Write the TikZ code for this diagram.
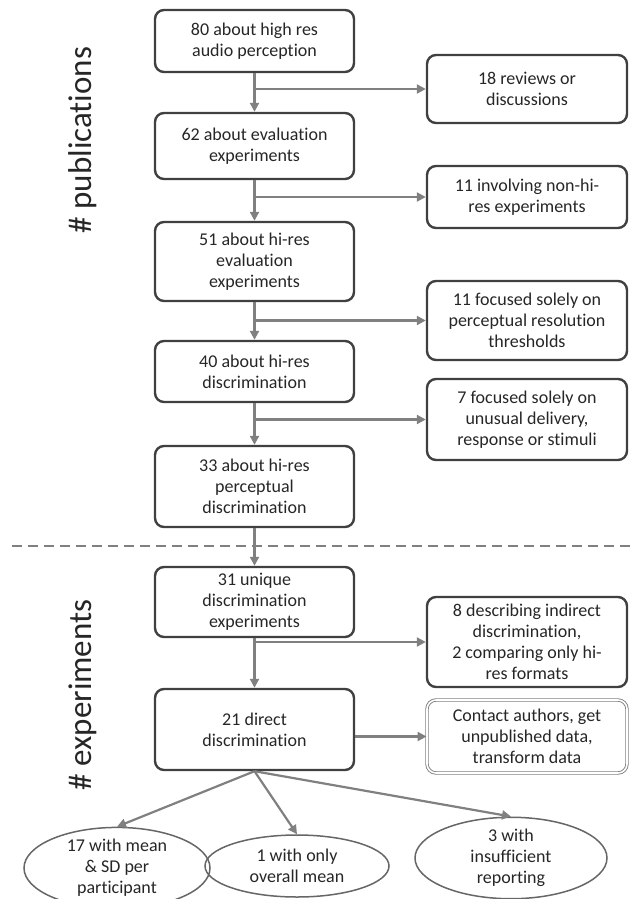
\documentclass[tikz,border=0pt]{standalone}
\usepackage{fontspec}
\setmainfont[Ligatures=NoCommon]{Carlito}
\definecolor{boxline}{HTML}{404040}
\definecolor{arrowgray}{HTML}{808080}
\definecolor{textdark}{HTML}{262626}
\usetikzlibrary{shapes, arrows.meta, positioning, fit, calc}
\tikzset{
  stepbox/.style={draw=boxline, line width=2.4pt, rounded corners=9pt,
    minimum width=199pt, align=center, text=textdark,
    font=\fontsize{18}{21}\selectfont},
  sidebox/.style={stepbox, minimum width=200pt},
  outcome/.style={ellipse, draw=boxline!80, line width=1.5pt, inner sep=0pt,
    align=center, text=textdark, font=\fontsize{18}{21}\selectfont},
  flow/.style={draw=arrowgray, line width=2.2pt,
    -{Triangle[length=9pt,width=9pt]}},
  sidelabel/.style={rotate=90, text=textdark, font=\fontsize{33}{36}\selectfont}
}

\begin{document}
\begin{tikzpicture}[x=1pt,y=-1pt]
  \useasboundingbox (0,0) rectangle (632,899);

  % publications
  \node[stepbox, minimum height=62pt] (p80) at (254.5,41) {80 about high res\\audio perception};
  \node[stepbox, minimum height=66pt] (p62) at (254.5,146) {62 about evaluation\\experiments};
  \node[stepbox, minimum height=79pt] (p51) at (254.5,261.5) {51 about hi-res\\evaluation\\experiments};
  \node[stepbox, minimum height=61pt] (p40) at (254.5,371.5) {40 about hi-res\\discrimination};
  \node[stepbox, minimum height=81pt] (p33) at (254.5,486.5) {33 about hi-res\\perceptual\\discrimination};

  \node[sidebox, minimum height=68pt] (x18) at (527,89) {18 reviews or\\discussions};
  \node[sidebox, minimum height=62pt] (x11a) at (527,197) {11 involving non-hi-\\res experiments};
  \node[sidebox, minimum height=79pt] (x11b) at (527,320.5) {11 focused solely on\\perceptual resolution\\thresholds};
  \node[sidebox, minimum height=81pt] (x7) at (527,419.5) {7 focused solely on\\unusual delivery,\\response or stimuli};

  % experiments
  \node[stepbox, minimum height=70pt] (e31) at (254.5,602) {31 unique\\discrimination\\experiments};
  \node[stepbox, minimum height=81pt] (e21) at (254.5,729.5) {21 direct\\discrimination};

  \node[sidebox, minimum height=90pt] (x8) at (527,642) {8 describing indirect\\discrimination,\\2 comparing only hi-\\res formats};
  \node[sidebox, minimum height=73pt, draw=arrowgray, line width=0.9pt,
        double=white, double distance=1.6pt] (contact) at (527,736.5)
        {Contact authors, get\\unpublished data,\\transform data};

  \node[outcome, minimum width=186pt, minimum height=62pt] (o17) at (117,868) {17 with mean\\\& SD per\\participant};
  \node[outcome, minimum width=184pt, minimum height=62pt] (o1) at (297,866) {1 with only\\overall mean};
  \node[outcome, minimum width=192pt, minimum height=64pt] (o3) at (511,858) {3 with\\insufficient\\reporting};

  \node[sidelabel] (pubs) at (83,140) {\# publications};
  \node[sidelabel] (exps) at (83,695) {\# experiments};

  \draw[arrowgray, line width=2pt, dash pattern=on 10pt off 6pt] (12,546) -- (632,546);

  % connectors
  \draw[flow] (p80) -- (p62);
  \draw[flow] (p62) -- (p51);
  \draw[flow] (p51) -- (p40);
  \draw[flow] (p40) -- (p33);
  \draw[flow] (p33) -- (e31);
  \draw[flow] (e31) -- (e21);
  \draw[flow] (p80.south |- x18.west) -- (x18.west);
  \draw[flow] (p62.south |- x11a.west) -- (x11a.west);
  \draw[flow] (p51.south |- x11b.west) -- (x11b.west);
  \draw[flow] (p40.south |- x7.west) -- (x7.west);
  \draw[flow] (e31.south |- x8.west) -- (x8.west);
  \draw[flow] (e21.east |- contact.west) -- (contact.west);
  \draw[flow] (e21.south) -- (o17.north);
  \draw[flow] (e21.south) -- (o1.north);
  \draw[flow] (e21.south) -- (o3.north);
\end{tikzpicture}
\end{document}
